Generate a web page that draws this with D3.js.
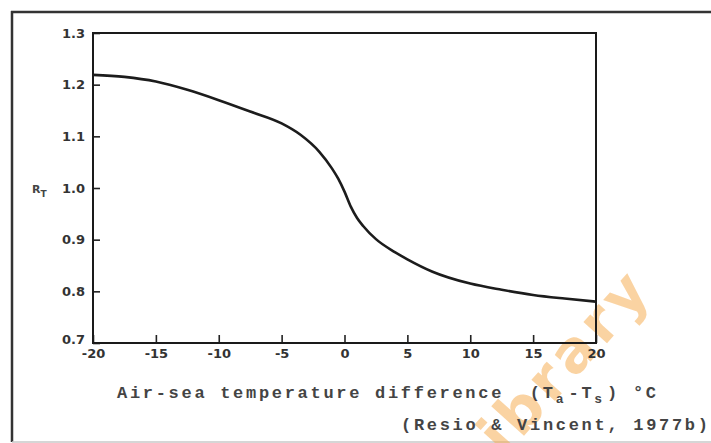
<!DOCTYPE html>
<html>
<head>
<meta charset="utf-8">
<script src="https://cdn.jsdelivr.net/npm/d3@7"></script>
<style>
  body { margin: 0; background: #fff; }
</style>
</head>
<body>
<div id="viz"></div>
<script>
// R_T en fonction de la difference de temperature air-mer

const deltaT = [-20, -17.5, -15, -12.5, -10, -7.5, -5, -3.5, -2, -1, -0.5, 0, 0.5, 1, 1.5, 2.5, 4, 5, 7, 10, 12.5, 15, 17.5, 20];
const rT = [1.219, 1.215, 1.206, 1.19, 1.17, 1.148, 1.125, 1.103, 1.07, 1.038, 1.018, 0.993, 0.964, 0.942, 0.926, 0.901, 0.876, 0.862, 0.838, 0.815, 0.803, 0.793, 0.786, 0.78];
const xTicks = [-20, -15, -10, -5, 0, 5, 10, 15, 20];
const yTicks = [0.7, 0.8, 0.9, 1.0, 1.1, 1.2, 1.3];

function main() {
  const width = 711;
  const height = 443;
  const plot = { left: 93, right: 596, top: 33, bottom: 343 };

  const svg = d3.select("#viz").append("svg")
    .attr("width", width)
    .attr("height", height);

  // cadre exterieur (scan)
  svg.append("line").attr("x1", 12).attr("x2", 12).attr("y1", 11).attr("y2", 442)
    .attr("stroke", "#333").attr("stroke-width", 2.5);
  svg.append("line").attr("x1", 11).attr("x2", width).attr("y1", 12).attr("y2", 12)
    .attr("stroke", "#333").attr("stroke-width", 2.5);
  svg.append("line").attr("x1", 12).attr("x2", width).attr("y1", 442).attr("y2", 442)
    .attr("stroke", "#c8c8c8").attr("stroke-width", 1.5);

  // filigrane
  svg.append("text")
    .attr("transform", "translate(655,290) rotate(-48)")
    .attr("text-anchor", "end")
    .attr("font-family", "DejaVu Sans")
    .attr("font-weight", "bold")
    .attr("font-size", 58)
    .attr("letter-spacing", 5)
    .attr("fill", "#f7a948")
    .attr("opacity", 0.5)
    .text("Library");

  const x = d3.scaleLinear().domain([-20, 20]).range([plot.left, plot.right]);
  const y = d3.scaleLinear().domain([0.7, 1.3]).range([plot.bottom, plot.top]);

  // Axe Y
  const yAxis = svg.append("g")
    .attr("transform", `translate(${plot.left},0)`)
    .call(d3.axisLeft(y).tickValues(yTicks).tickFormat(d3.format(".1f"))
      .tickSizeInner(-7).tickSizeOuter(0).tickPadding(8));

  // Axe X
  const xAxis = svg.append("g")
    .attr("transform", `translate(0,${plot.bottom})`)
    .call(d3.axisBottom(x).tickValues(xTicks).tickFormat(d => String(d))
      .tickSizeInner(-8).tickSizeOuter(0).tickPadding(6));

  [yAxis, xAxis].forEach(a => {
    a.select(".domain").remove();
    a.selectAll("line").attr("stroke", "#222").attr("stroke-width", 1.6);
    a.selectAll("text")
      .attr("font-family", "DejaVu Sans")
      .attr("font-weight", "bold")
      .attr("font-size", 13)
      .attr("fill", "#333");
  });
  // 0.7 remonte un peu (comme l'original)
  yAxis.selectAll(".tick text").filter(d => d === 0.7).attr("dy", "0.05em");

  // cadre du graphe
  svg.append("rect")
    .attr("x", plot.left).attr("y", plot.top)
    .attr("width", plot.right - plot.left).attr("height", plot.bottom - plot.top)
    .attr("fill", "none").attr("stroke", "#1a1a1a").attr("stroke-width", 2);

  // Courbe
  const line = d3.line()
    .x((d, i) => x(deltaT[i]))
    .y(d => y(d))
    .curve(d3.curveMonotoneX);

  svg.append("path")
    .datum(rT)
    .attr("d", line)
    .attr("fill", "none")
    .attr("stroke", "#1c1c1c")
    .attr("stroke-width", 2.6);

  // label R_T
  const rLabel = svg.append("text")
    .attr("x", 32).attr("y", 193)
    .attr("font-family", "DejaVu Sans")
    .attr("font-weight", "bold")
    .attr("font-size", 11)
    .attr("fill", "#444");
  rLabel.append("tspan").text("R");
  rLabel.append("tspan").attr("dy", 4).attr("font-size", 9).text("T");

  // titre axe X (police machine a ecrire)
  const mono = { family: "Liberation Mono", size: 17, spacing: 2.7 };
  const cap = svg.append("text")
    .attr("x", 117).attr("y", 398)
    .attr("font-family", mono.family)
    .attr("font-weight", "bold")
    .attr("font-size", mono.size)
    .attr("letter-spacing", mono.spacing)
    .attr("fill", "#444")
    .attr("xml:space", "preserve");
  cap.append("tspan").text("Air-sea temperature difference  (T");
  cap.append("tspan").attr("dy", 5).attr("font-size", 13).attr("letter-spacing", 5).text("a");
  cap.append("tspan").attr("dy", -5).text("-T");
  cap.append("tspan").attr("dy", 5).attr("font-size", 13).attr("letter-spacing", 5).text("s");
  cap.append("tspan").attr("dy", -5).text(") °C");

  svg.append("text")
    .attr("x", 401).attr("y", 430)
    .attr("font-family", mono.family)
    .attr("font-weight", "bold")
    .attr("font-size", mono.size)
    .attr("letter-spacing", mono.spacing)
    .attr("fill", "#444")
    .attr("xml:space", "preserve")
    .text("(Resio & Vincent, 1977b)");
}

main();
</script>
</body>
</html>
